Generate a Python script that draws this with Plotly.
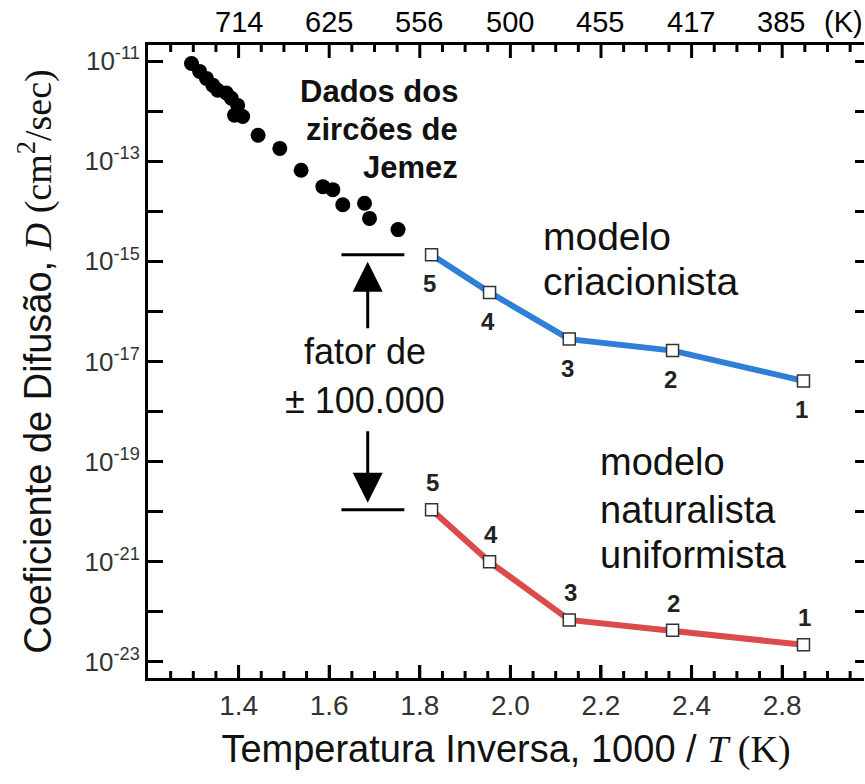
import math
import plotly.graph_objects as go

# ---- data ----
jemez_x = [1.296, 1.314, 1.329, 1.343, 1.354, 1.373, 1.384, 1.398, 1.391, 1.409,
           1.443, 1.491, 1.538, 1.586, 1.608, 1.630, 1.678, 1.689, 1.752]
jemez_d = [8.9e-12, 6.2e-12, 4.5e-12, 3.3e-12, 2.6e-12, 2.3e-12, 1.8e-12, 1.3e-12,
           8.3e-13, 7.8e-13, 3.3e-13, 1.8e-13, 6.6e-14, 3.1e-14, 2.7e-14, 1.35e-14,
           1.45e-14, 7.2e-15, 4.3e-15]

sample_labels = ["1", "2", "3", "4", "5"]
sample_x = [2.647, 2.358, 2.130, 1.954, 1.826]
creation_d = [4.1e-18, 1.65e-17, 2.8e-17, 2.4e-16, 1.35e-15]
natural_d = [2.2e-23, 4.3e-23, 6.9e-23, 1.0e-21, 1.1e-20]

bottom_tick_vals = [1.4, 1.6, 1.8, 2.0, 2.2, 2.4, 2.6]
bottom_tick_text = ["1.4", "1.6", "1.8", "2.0", "2.2", "2.4", "2.8"]
top_kelvin = [714, 625, 556, 500, 455, 417, 385]
y_exponents = list(range(-11, -24, -1))

SANS = "Liberation Sans, Arial, sans-serif"

x_range = [1.2, 2.7806]
y_range = [-23.32, -10.68]
PX_PER_DECADE = 50.08
major_x = [round(1.2 + 0.2 * i, 3) for i in range(1, 8)]
minor_x = [round(1.2 + 0.05 * i, 3) for i in range(1, 32) if i % 4]

fig = go.Figure()

# x-axis tick marks (bottom and top edges), drawn on the axis scales
tick_x, tick_y = [], []
for vals, ln in ((major_x, 13), (minor_x, 7)):
    dec = ln / PX_PER_DECADE
    for v in vals:
        tick_x += [v, v, None, v, v, None]
        tick_y += [10 ** y_range[0], 10 ** (y_range[0] + dec), None,
                   10 ** y_range[1], 10 ** (y_range[1] - dec), None]
fig.add_trace(go.Scatter(
    x=tick_x, y=tick_y, mode="lines", line=dict(color="black", width=3),
    hoverinfo="skip", showlegend=False, connectgaps=False))

fig.add_trace(go.Scatter(
    x=jemez_x, y=jemez_d, mode="markers",
    marker=dict(color="black", size=15), showlegend=False))

fig.add_trace(go.Scatter(
    x=sample_x, y=creation_d, mode="lines+markers",
    line=dict(color="#2f7fd6", width=6),
    marker=dict(symbol="square", size=12, color="white",
                line=dict(color="#333333", width=1.5)),
    showlegend=False))

fig.add_trace(go.Scatter(
    x=sample_x, y=natural_d, mode="lines+markers",
    line=dict(color="#db4b4b", width=6),
    marker=dict(symbol="square", size=12, color="white",
                line=dict(color="#333333", width=1.5)),
    showlegend=False))

# invisible trace so the right helper y axis is drawn
fig.add_trace(go.Scatter(
    x=[sample_x[0]], y=[creation_d[0]], yaxis="y2", mode="markers",
    marker=dict(opacity=0), hoverinfo="skip", showlegend=False))

y_tickvals = [10.0 ** e for e in y_exponents]
y_ticktext = [("10<sup>%d</sup>" % e) if e % 2 else "" for e in y_exponents]

fig.update_layout(
    width=865, height=784,
    margin=dict(l=148, r=1, t=45, b=106),
    paper_bgcolor="white", plot_bgcolor="white",
    font=dict(family=SANS, color="black"),
    xaxis=dict(
        range=x_range, showgrid=False, zeroline=False,
        showline=True, linecolor="black", linewidth=3, mirror=True,
        ticks="inside", ticklen=13, tickwidth=3, tickcolor="black",
        tickmode="array", tickvals=bottom_tick_vals, ticktext=bottom_tick_text,
        tickfont=dict(size=28, color="#333333", family=SANS),
        title=dict(text='Temperatura Inversa, 1000 / <span style="font-family:Liberation Serif"><i>T</i> (K)</span>',
                   font=dict(size=38, family=SANS, color="#111111"), standoff=16),
    ),
    yaxis=dict(
        type="log", range=y_range, showgrid=False, zeroline=False,
        showline=True, linecolor="black", linewidth=3, mirror=False,
        ticks="inside", ticklen=15, tickwidth=3, tickcolor="black",
        tickmode="array", tickvals=y_tickvals, ticktext=y_ticktext,
        tickfont=dict(size=26, color="#333333", family=SANS),
        title=dict(text='Coeficiente de Difusão, <span style="font-family:Liberation Serif"><i>D</i> (cm<sup>2</sup>/sec)</span>',
                   font=dict(size=38, family=SANS, color="#111111"), standoff=22),
    ),
    yaxis2=dict(
        type="log", overlaying="y", side="right", anchor="x", range=y_range,
        showgrid=False, zeroline=False, showline=False,
        ticks="inside", ticklen=9, tickwidth=3, tickcolor="black",
        tickmode="array", tickvals=y_tickvals, showticklabels=False,
    ),
)

annotations = []
# top kelvin labels
for k in top_kelvin:
    annotations.append(dict(x=1000.0 / k, y=1, xref="x", yref="paper", yshift=23,
                            text=str(k), showarrow=False, xanchor="center", yanchor="middle",
                            font=dict(size=29, color="black", family=SANS)))
annotations.append(dict(x=0.972, y=1, xref="paper", yref="paper", yshift=23,
                        text="(K)", showarrow=False, xanchor="center", yanchor="middle",
                        font=dict(size=29, color="black", family=SANS)))

# sample number labels
for lab, xv, yv in zip(sample_labels, sample_x, creation_d):
    annotations.append(dict(x=xv, y=math.log10(yv), xref="x", yref="y", text="<b>%s</b>" % lab,
                            showarrow=False, yshift=-29, xshift=-2,
                            font=dict(size=24, color="#222222", family=SANS)))
for lab, xv, yv in zip(sample_labels, sample_x, natural_d):
    annotations.append(dict(x=xv, y=math.log10(yv), xref="x", yref="y", text="<b>%s</b>" % lab,
                            showarrow=False, yshift=27, xshift=1,
                            font=dict(size=24, color="#222222", family=SANS)))

# text blocks (one annotation per line)
for txt, yv in (("Dados dos", -11.60), ("zircões de", -12.36), ("Jemez", -13.12)):
    annotations.append(dict(x=1.889, y=yv, xref="x", yref="y", text="<b>%s</b>" % txt,
                            showarrow=False, xanchor="right", yanchor="middle",
                            font=dict(size=31, color="#111111", family=SANS)))
for txt, yv in (("modelo", -14.51), ("criacionista", -15.41)):
    annotations.append(dict(x=2.0675, y=yv, xref="x", yref="y", text=txt,
                            showarrow=False, xanchor="left", yanchor="middle",
                            font=dict(size=39, color="#111111", family=SANS)))
for txt, yv in (("modelo", -19.01), ("naturalista", -19.97), ("uniformista", -20.86)):
    annotations.append(dict(x=2.193, y=yv, xref="x", yref="y", text=txt,
                            showarrow=False, xanchor="left", yanchor="middle",
                            font=dict(size=38, color="#111111", family=SANS)))
for txt, yv in (("fator de", -16.81), ("± 100.000", -17.77)):
    annotations.append(dict(x=1.679, y=yv, xref="x", yref="y", text=txt,
                            showarrow=False, xanchor="center", yanchor="middle",
                            font=dict(size=36, color="#111111", family=SANS)))
# arrows
annotations.append(dict(x=1.685, y=math.log10(creation_d[4]), xref="x", yref="y",
                        ax=0, ay=75, text="", showarrow=True, arrowhead=2,
                        arrowsize=2, arrowwidth=3, arrowcolor="black", standoff=7))
annotations.append(dict(x=1.685, y=math.log10(natural_d[4]), xref="x", yref="y",
                        ax=0, ay=-80, text="", showarrow=True, arrowhead=2,
                        arrowsize=2, arrowwidth=3, arrowcolor="black", standoff=7))

fig.update_layout(annotations=annotations)

# horizontal bars marking the factor
for yv in (creation_d[4], natural_d[4]):
    fig.add_shape(type="line", xref="x", yref="y", x0=1.627, x1=1.766, y0=yv, y1=yv,
                  line=dict(color="black", width=3))

fig.write_html("out.html")
